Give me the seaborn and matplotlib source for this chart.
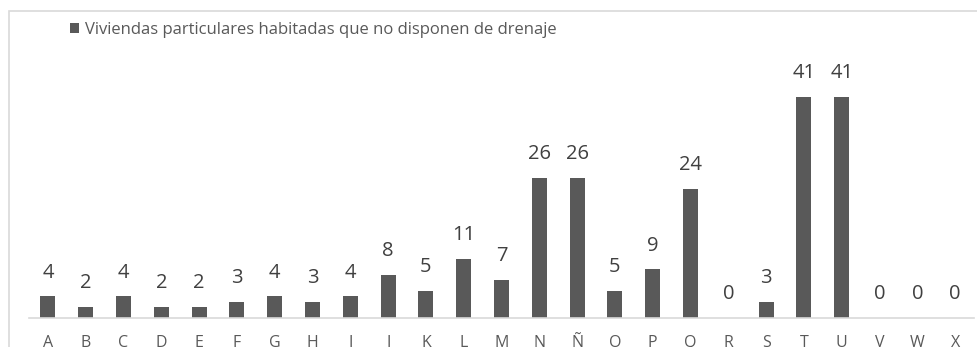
import matplotlib
matplotlib.use("Agg")
import matplotlib.pyplot as plt
from matplotlib.patches import Rectangle
import seaborn as sns
import pandas as pd

categorias = ["A", "B", "C", "D", "E", "F", "G", "H", "I", "J", "K", "L", "M",
              "N", "Ñ", "O", "P", "Q", "R", "S", "T", "U", "V", "W", "X"]
viviendas = [4, 2, 4, 2, 2, 3, 4, 3, 4, 8, 5, 11, 7,
             26, 26, 5, 9, 24, 0, 3, 41, 41, 0, 0, 0]
serie = "Viviendas particulares habitadas que no disponen de drenaje"

sns.set_theme(style="white")
plt.rcParams["font.family"] = ["Open Sans", "DejaVu Sans"]

df = pd.DataFrame({"categoria": categorias, "valor": viviendas})

fig = plt.figure(figsize=(9.77, 3.47), dpi=100)
W, H = 977, 347
ax = fig.add_axes([29 / W, (H - 318) / H, (974 - 29) / W, 242.6 / H])

sns.barplot(data=df, x="categoria", y="valor", color="#595959", width=0.4,
            saturation=1, linewidth=0, ax=ax, label=serie)

ax.set_xlim(-0.5, len(categorias) - 0.5)
ax.set_ylim(0, 45)
ax.set_xlabel("")
ax.set_ylabel("")
ax.set_yticks([])
for s in ["top", "right", "left"]:
    ax.spines[s].set_visible(False)
ax.spines["bottom"].set_color("#d9d9d9")
ax.spines["bottom"].set_linewidth(1.2)
ax.tick_params(axis="x", length=0, pad=12, labelsize=11.5, labelcolor="#595959")

ax.bar_label(ax.containers[0], padding=10, fontsize=14.5, color="#404040")

leg = ax.legend(loc="upper left", bbox_to_anchor=(70 / W, (H - 22) / H),
                bbox_transform=fig.transFigure, frameon=False, fontsize=12,
                handlelength=0.55, handleheight=0.55, handletextpad=0.35,
                borderpad=0, borderaxespad=0)
for t in leg.get_texts():
    t.set_color("#595959")

fig.patches.append(Rectangle((9 / W, -0.1), 1.2, (H - 11) / H + 0.1,
                             transform=fig.transFigure, fill=False,
                             edgecolor="#d9d9d9", linewidth=1.2))

fig.savefig("out.png", dpi=100)
